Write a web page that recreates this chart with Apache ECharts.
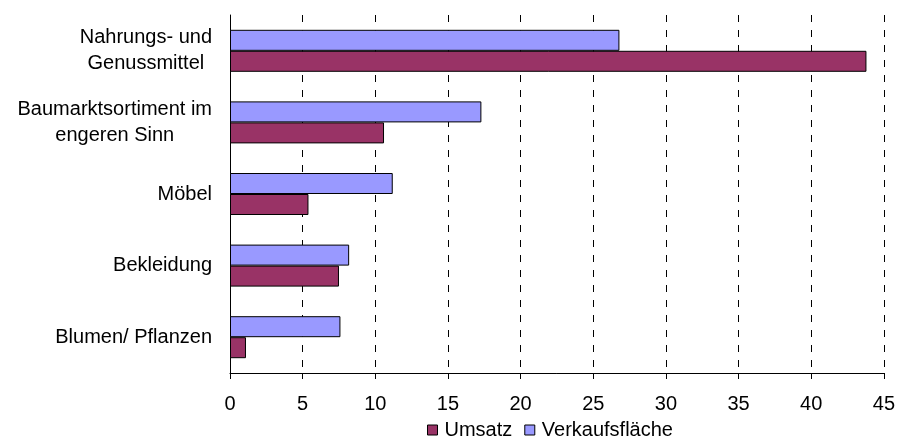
<!DOCTYPE html>
<html>
<head>
<meta charset="utf-8">
<script src="https://cdn.jsdelivr.net/npm/echarts@6/dist/echarts.min.js"></script>
<style>
  html, body { margin: 0; padding: 0; background: #fff; }
  #chart { width: 898px; height: 439px; }
</style>
</head>
<body>
<div id="chart"></div>
<script>
const categories = [
  'Nahrungs- und\nGenussmittel',
  'Baumarktsortiment im\nengeren Sinn',
  'Möbel',
  'Bekleidung',
  'Blumen/ Pflanzen'
];
const verkaufsflaeche = [26.8, 17.3, 11.2, 8.2, 7.6];
const umsatz = [43.8, 10.6, 5.4, 7.5, 1.1];
const xTicks = [0, 45, 5];

const font = '"Liberation Sans", Arial, sans-serif';

const chart = echarts.init(document.getElementById('chart'));

const option = {
  animation: false,
  textStyle: { fontFamily: font },
  grid: { left: 230, right: 10.5, top: 15, bottom: 66 },
  legend: {
    data: ['Umsatz', 'Verkaufsfläche'],
    left: 427,
    bottom: -1,
    padding: 0,
    itemWidth: 10,
    itemHeight: 10,
    itemGap: 12,
    icon: 'rect',
    itemStyle: { borderColor: '#000', borderWidth: 1 },
    textStyle: { fontSize: 20, color: '#000', fontFamily: font, padding: [0, 0, 0, 2] }
  },
  xAxis: {
    type: 'value',
    min: xTicks[0],
    max: xTicks[1],
    interval: xTicks[2],
    axisLine: { show: true, lineStyle: { color: '#000', width: 1 } },
    axisTick: { show: true, length: 6, lineStyle: { color: '#000' } },
    axisLabel: { fontSize: 20, color: '#000', margin: 21, fontFamily: font },
    splitLine: { show: true, lineStyle: { color: '#000', type: [7, 8], width: 1 } }
  },
  yAxis: {
    type: 'category',
    inverse: true,
    data: categories,
    axisLine: { show: true, lineStyle: { color: '#000', width: 1 } },
    axisTick: { show: false },
    axisLabel: {
      margin: 18,
      color: '#000',
      fontSize: 20,
      fontFamily: font,
      lineHeight: 26,
      formatter: v => v.split('\n').map(s => '{c|' + s + '}').join('\n'),
      rich: { c: { align: 'center', fontSize: 20, lineHeight: 26, color: '#000', fontFamily: font } }
    }
  },
  series: [
    {
      name: 'Verkaufsfläche',
      type: 'bar',
      data: verkaufsflaeche,
      barWidth: 21,
      barGap: '0%',
      itemStyle: { color: '#9999FF', borderColor: '#000', borderWidth: 1 }
    },
    {
      name: 'Umsatz',
      type: 'bar',
      data: umsatz,
      barWidth: 21,
      barGap: '0%',
      itemStyle: { color: '#993366', borderColor: '#000', borderWidth: 1 }
    }
  ]
};

chart.setOption(option);
</script>
</body>
</html>
